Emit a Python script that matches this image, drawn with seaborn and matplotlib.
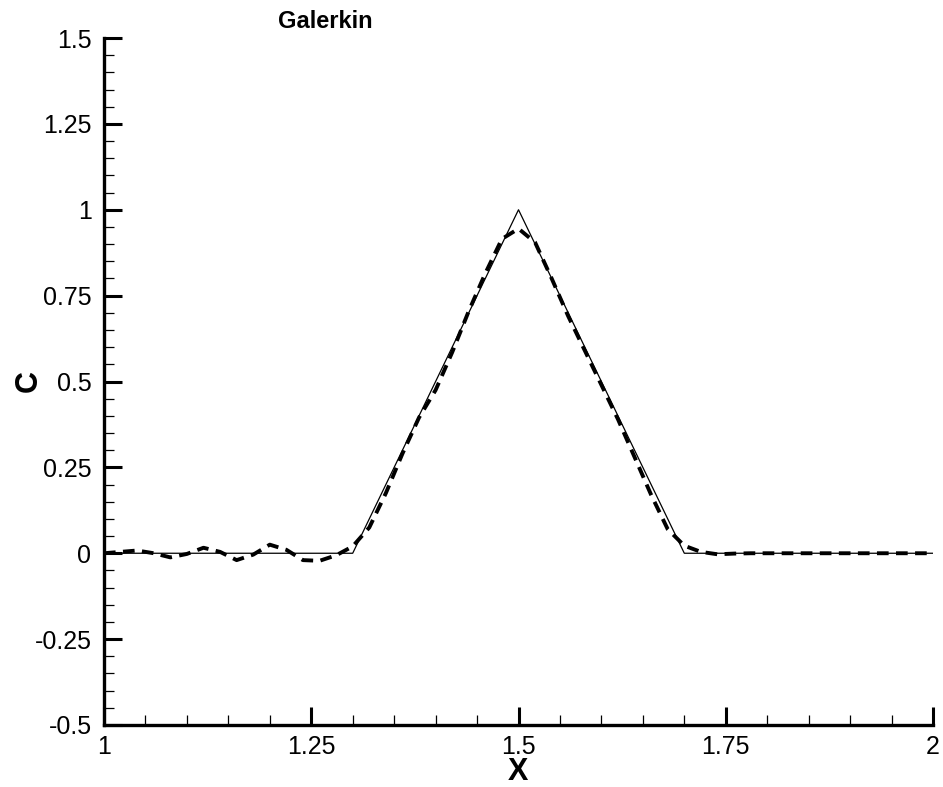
import numpy as np
import pandas as pd
import matplotlib
matplotlib.use("Agg")
import matplotlib.pyplot as plt
import seaborn as sns
from matplotlib.ticker import MultipleLocator

# Exact solution (triangle)
exact_x = [1.0, 1.3, 1.5, 1.7, 2.0]
exact_c = [0.0, 0.0, 1.0, 0.0, 0.0]

# Galerkin numerical solution
galerkin_x = [1.00, 1.02, 1.04, 1.06, 1.08, 1.10, 1.12, 1.14, 1.16, 1.18,
              1.20, 1.22, 1.24, 1.26, 1.28, 1.30, 1.32, 1.34, 1.36, 1.38,
              1.40, 1.42, 1.44, 1.46, 1.48, 1.50, 1.52, 1.54, 1.56, 1.58,
              1.60, 1.62, 1.64, 1.66, 1.68, 1.70, 1.72, 1.74, 1.76, 1.78,
              1.80, 1.82, 1.84, 1.86, 1.88, 1.90, 1.92, 1.94, 1.96, 1.98, 2.00]
galerkin_c = [0.000, 0.004, 0.008, 0.000, -0.012, -0.002, 0.016, 0.004, -0.020, -0.004,
              0.025, 0.010, -0.020, -0.022, -0.006, 0.020, 0.075, 0.175, 0.290, 0.395,
              0.475, 0.585, 0.705, 0.815, 0.915, 0.945, 0.905, 0.800, 0.690, 0.590,
              0.490, 0.390, 0.280, 0.170, 0.070, 0.022, 0.004, -0.003, -0.001, 0.000,
              0.000, 0.000, 0.000, 0.000, 0.000, 0.000, 0.000, 0.000, 0.000, 0.000, 0.000]

xticks = [1, 1.25, 1.5, 1.75, 2]
xtick_labels = ["1", "1.25", "1.5", "1.75", "2"]
yticks = [-0.5, -0.25, 0, 0.25, 0.5, 0.75, 1, 1.25, 1.5]
ytick_labels = ["-0.5", "-0.25", "0", "0.25", "0.5", "0.75", "1", "1.25", "1.5"]

sns.set_style("ticks")
plt.rcParams['font.family'] = ['Liberation Sans', 'DejaVu Sans']
plt.rcParams['text.color'] = 'black'

fig = plt.figure(figsize=(9.43, 7.87), dpi=100)
ax = fig.add_axes([104/943, 1 - 725/787, (933-104)/943, (725-38)/787])

df_exact = pd.DataFrame({"x": exact_x, "C": exact_c})
df_gal = pd.DataFrame({"x": galerkin_x, "C": galerkin_c})

sns.lineplot(data=df_exact, x="x", y="C", ax=ax, color="black", linewidth=0.9,
             sort=False, estimator=None)
sns.lineplot(data=df_gal, x="x", y="C", ax=ax, color="black", linewidth=2.8,
             sort=False, estimator=None, dashes=False)
ax.lines[-1].set_dashes((3.0, 1.9))

ax.set_xlim(1, 2)
ax.set_ylim(-0.5, 1.5)
ax.set_xticks(xticks)
ax.set_xticklabels(xtick_labels)
ax.set_yticks(yticks)
ax.set_yticklabels(ytick_labels)
ax.xaxis.set_minor_locator(MultipleLocator(0.05))
ax.yaxis.set_minor_locator(MultipleLocator(0.05))

ax.tick_params(which="major", direction="in", length=13, width=2.2, labelsize=18,
               colors="black")
ax.tick_params(axis="x", which="major", pad=7)
ax.tick_params(axis="y", which="major", pad=9)
ax.tick_params(which="minor", direction="in", length=7, width=0.9, colors="black")

for side in ["top", "right"]:
    ax.spines[side].set_visible(False)
for side in ["left", "bottom"]:
    ax.spines[side].set_linewidth(2.4)
    ax.spines[side].set_color("black")

ax.set_xlabel("")
ax.set_ylabel("")
fig.text(518/943, 1 - 772/787, "X", fontsize=22, fontweight="bold",
         ha="center", va="center", color="black")
fig.text(29/943, 1 - 381/787, "C", fontsize=22, fontweight="bold",
         ha="center", va="center", rotation=90, color="black")
fig.text(325/943, 1 - 22/787, "Galerkin", fontsize=17, fontweight="bold",
         ha="center", va="center", color="black")

fig.savefig("out.png", dpi=100)
